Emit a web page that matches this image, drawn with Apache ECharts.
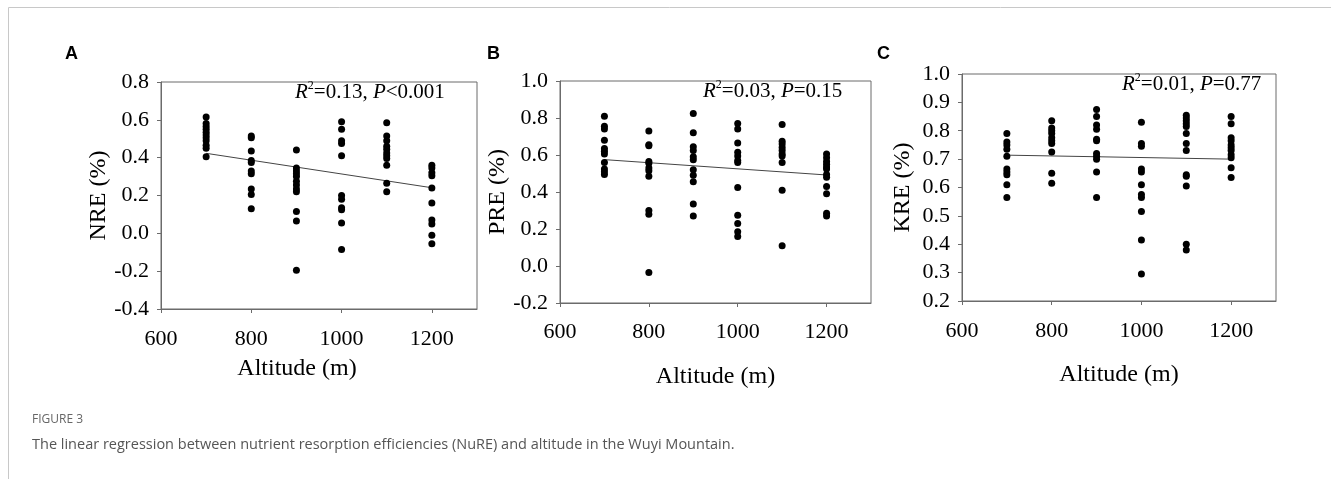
<!DOCTYPE html>
<html>
<head>
<meta charset="utf-8">
<title>Figure 3</title>
<script src="https://cdn.jsdelivr.net/npm/echarts@6/dist/echarts.min.js"></script>
<style>
html, body { margin: 0; padding: 0; background: #fff; }
#main { width: 1331px; height: 479px; }
</style>
</head>
<body>
<div id="main"></div>
<script>
// altitude classes (m)
var altitudes = [700, 800, 900, 1000, 1100, 1200];

// NRE values per altitude
var nreValues = [
	[0.615, 0.58, 0.565, 0.55, 0.535, 0.52, 0.505, 0.49, 0.465, 0.45, 0.405],
	[0.515, 0.505, 0.435, 0.385, 0.375, 0.33, 0.315, 0.235, 0.205, 0.13],
	[0.44, 0.345, 0.33, 0.315, 0.30, 0.275, 0.255, 0.235, 0.22, 0.115, 0.065, -0.195],
	[0.59, 0.55, 0.49, 0.475, 0.41, 0.20, 0.18, 0.135, 0.125, 0.055, -0.085],
	[0.585, 0.515, 0.49, 0.46, 0.445, 0.425, 0.41, 0.395, 0.36, 0.265, 0.22],
	[0.36, 0.345, 0.32, 0.305, 0.24, 0.16, 0.07, 0.05, -0.01, -0.055]
];
// PRE values per altitude (panel B)
var preValues = [
	[0.81, 0.755, 0.74, 0.68, 0.635, 0.62, 0.605, 0.56, 0.525, 0.51, 0.495],
	[0.73, 0.655, 0.65, 0.565, 0.555, 0.53, 0.515, 0.485, 0.30, 0.28, -0.035],
	[0.825, 0.72, 0.645, 0.625, 0.59, 0.575, 0.52, 0.49, 0.455, 0.335, 0.27],
	[0.77, 0.74, 0.665, 0.615, 0.595, 0.57, 0.56, 0.425, 0.275, 0.23, 0.185, 0.16],
	[0.765, 0.675, 0.66, 0.64, 0.625, 0.605, 0.595, 0.56, 0.41, 0.11],
	[0.605, 0.585, 0.565, 0.55, 0.535, 0.525, 0.495, 0.48, 0.43, 0.39, 0.285, 0.27]
];
// KRE values per altitude (panel C)
var kreValues = [
	[0.79, 0.76, 0.75, 0.735, 0.71, 0.665, 0.655, 0.645, 0.61, 0.565],
	[0.835, 0.81, 0.80, 0.79, 0.775, 0.765, 0.755, 0.725, 0.65, 0.615],
	[0.875, 0.85, 0.82, 0.805, 0.77, 0.765, 0.72, 0.71, 0.70, 0.655, 0.565],
	[0.83, 0.755, 0.745, 0.665, 0.655, 0.61, 0.575, 0.565, 0.515, 0.415, 0.295],
	[0.855, 0.845, 0.835, 0.825, 0.815, 0.79, 0.755, 0.73, 0.645, 0.64, 0.605, 0.40, 0.38],
	[0.85, 0.825, 0.775, 0.765, 0.75, 0.74, 0.73, 0.715, 0.705, 0.67, 0.635]
];

// fitted line ends at 700 m and 1200 m
var fitX = [700, 1200];
var nreFit = [0.423, 0.241];
var preFit = [0.575, 0.492];
var kreFit = [0.714, 0.700];

// axis tick labels
var xTicks = [600, 800, 1000, 1200];
var nreTicks = [-0.4, -0.2, 0.0, 0.2, 0.4, 0.6, 0.8];
var preTicks = [-0.2, 0.0, 0.2, 0.4, 0.6, 0.8, 1.0];
var kreTicks = [0.2, 0.3, 0.4, 0.5, 0.6, 0.7, 0.8, 0.9, 1.0];

var panelNames = ['NRE (%)', 'PRE (%)', 'KRE (%)'];
var statR2 = ['0.13', '0.03', '0.01'];
var statP = ['<0.001', '=0.15', '=0.77'];

function toPoints(values) {
	var pts = [];
	for (var i = 0; i < altitudes.length; i++) {
		for (var j = 0; j < values[i].length; j++) {
			pts.push([altitudes[i], values[i][j]]);
		}
	}
	return pts;
}
function toLine(fit) {
	return [[fitX[0], fit[0]], [fitX[1], fit[1]]];
}

var serif = '"Liberation Serif", "Times New Roman", serif';
var frameColor = '#6b6b6b';

var grids = [
	{ left: 161, top: 82, width: 316, height: 227 },
	{ left: 560, top: 81, width: 311, height: 222 },
	{ left: 962, top: 74, width: 314, height: 227 }
];
var yTicks = [nreTicks, preTicks, kreTicks];
var xNameGap = [48, 62, 62];
var xNamePad = [[0, 44, 0, 0], 0, 0];
var xLabelMargin = [19, 18, 19];
var allValues = [nreValues, preValues, kreValues];
var allFits = [nreFit, preFit, kreFit];

var xAxes = [], yAxes = [], series = [];
for (var k = 0; k < 3; k++) {
	grids[k].show = true;
	grids[k].borderColor = frameColor;
	grids[k].borderWidth = 1;
	xAxes.push({
		type: 'value', gridIndex: k, min: 600, max: 1300, interval: 200,
		name: 'Altitude (m)', nameLocation: 'middle', nameGap: xNameGap[k],
		nameTextStyle: { fontFamily: serif, fontSize: 24, color: '#000', padding: xNamePad[k] },
		axisLine: { show: true, onZero: false, lineStyle: { color: frameColor } },
		axisTick: { show: true, length: 4, inside: false, customValues: xTicks, lineStyle: { color: frameColor } },
		axisLabel: {
			fontFamily: serif, fontSize: 22, color: '#000', margin: xLabelMargin[k], customValues: xTicks,
			formatter: function (v) { return String(v); }
		},
		splitLine: { show: false }
	});
	var yt = yTicks[k];
	yAxes.push({
		type: 'value', gridIndex: k, min: yt[0], max: yt[yt.length - 1],
		interval: Math.round((yt[1] - yt[0]) * 10) / 10,
		name: panelNames[k], nameLocation: 'middle', nameGap: 47, nameRotate: 90,
		nameTextStyle: { fontFamily: serif, fontSize: 24, color: '#000' },
		axisLine: { show: true, onZero: false, lineStyle: { color: frameColor } },
		axisTick: { show: true, length: 4, lineStyle: { color: frameColor } },
		axisLabel: {
			fontFamily: serif, fontSize: 22, color: '#000', margin: 12,
			formatter: function (v) { return v.toFixed(1); }
		},
		splitLine: { show: false }
	});
	series.push({
		type: 'scatter', xAxisIndex: k, yAxisIndex: k,
		symbolSize: 7, itemStyle: { color: '#000', opacity: 1 },
		data: toPoints(allValues[k]), z: 3
	});
	series.push({
		type: 'line', xAxisIndex: k, yAxisIndex: k,
		symbol: 'none', lineStyle: { color: '#444', width: 1 },
		data: toLine(allFits[k]), z: 2
	});
}

// regression statistics text
var statPos = [[295, 93], [703, 92], [1122, 85]];
var graphics = [];
for (var m = 0; m < 3; m++) {
	graphics.push({
		type: 'text', left: statPos[m][0], top: statPos[m][1] - 13,
		style: {
			text: '{i|R}{s|2}{n|=' + statR2[m] + ', }{i|P}{n|' + statP[m] + '}',
			rich: {
				i: { fontFamily: serif, fontStyle: 'italic', fontSize: 21, fill: '#000', lineHeight: 24 },
				n: { fontFamily: serif, fontSize: 21, fill: '#000', lineHeight: 24 },
				s: { fontFamily: serif, fontSize: 12, fill: '#000', lineHeight: 24, padding: [0, 0, 12, 0] }
			}
		}
	});
}
// panel letters
var letters = ['A', 'B', 'C'];
var letterX = [65, 487, 877];
for (var n = 0; n < 3; n++) {
	graphics.push({
		type: 'text', left: letterX[n], top: 45,
		style: { text: letters[n], font: 'bold 18px "Liberation Sans", Arial, sans-serif', fill: '#000' }
	});
}
// outer frame lines
graphics.push({ type: 'line', shape: { x1: 8.5, y1: 7.5, x2: 1331, y2: 7.5 }, style: { stroke: '#c8c8c8', lineWidth: 1 } });
graphics.push({ type: 'line', shape: { x1: 8.5, y1: 7.5, x2: 8.5, y2: 479 }, style: { stroke: '#c8c8c8', lineWidth: 1 } });
// caption
graphics.push({
	type: 'text', left: 32, top: 414,
	style: { text: 'FIGURE 3', font: '12px "Open Sans", "Noto Sans", sans-serif', fill: '#666' }
});
graphics.push({
	type: 'text', left: 32, top: 437,
	style: {
		text: 'The linear regression between nutrient resorption efficiencies (NuRE) and altitude in the Wuyi Mountain.',
		font: '14.5px "Open Sans", "Noto Sans", sans-serif', fill: '#555'
	}
});

var chart = echarts.init(document.getElementById('main'));
chart.setOption({
	animation: false,
	grid: grids,
	xAxis: xAxes,
	yAxis: yAxes,
	series: series,
	graphic: graphics
});
window.onresize = function () {
	chart.resize();
};
</script>
</body>
</html>
